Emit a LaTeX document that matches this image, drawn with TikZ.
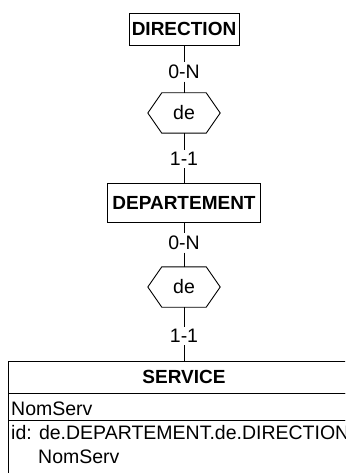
\documentclass[tikz,border=0pt]{standalone}
\usepackage{fontspec}
\setmainfont{Liberation Sans}
\begin{document}
\begin{tikzpicture}[x=1pt,y=-1pt,
  every node/.style={font=\fontsize{19.5}{23}\selectfont},
  ent/.style={draw, line width=0.9pt, inner sep=0pt, font=\fontsize{19}{23}\selectfont\bfseries},
  card/.style={inner sep=2.5pt},
  rel/.style={inner sep=0pt, minimum width=72pt, minimum height=40pt},
  link/.style={line width=0.9pt},
  box/.style={line width=0.9pt}]
\useasboundingbox (0,0) rectangle (345,473);
\clip (0,0) rectangle (345,473);

% entities
\node[ent, minimum width=110pt, minimum height=32pt] (dir) at (184,29) {DIRECTION};
\node[ent, minimum width=153pt, minimum height=39pt] (dep) at (184,202.5) {DEPARTEMENT};
\node[ent, minimum width=352pt, minimum height=32pt] (serv) at (184,377) {SERVICE};
\draw[box] (8,393) rectangle (360,420);
\draw[box] (8,420) rectangle (360,495);
\node[anchor=base west, inner sep=0pt] (attr) at (11,415) {NomServ};
\node[anchor=base west, inner sep=0pt] (id1) at (11,439) {id: de.DEPARTEMENT.de.DIRECTION};
\node[anchor=base west, inner sep=0pt] (id2) at (38,463) {NomServ};

% relationships
\node[rel] (r1) at (184,113) {de};
\node[rel] (r2) at (184,287) {de};
\foreach \r in {r1,r2}{
  \draw[box] (\r.west) -- ([xshift=14pt]\r.north west) -- ([xshift=-14pt]\r.north east)
    -- (\r.east) -- ([xshift=-14pt]\r.south east) -- ([xshift=14pt]\r.south west) -- cycle;
}

% cardinalities
\node[card] (c1) at (184,72) {0-N};
\node[card] (c2) at (184,159) {1-1};
\node[card] (c3) at (184,243) {0-N};
\node[card] (c4) at (184,336) {1-1};

% connectors
\draw[link] (dir.south) -- (c1.north);
\draw[link] (c1.south) -- (r1.north);
\draw[link] (r1.south) -- (c2.north);
\draw[link] (c2.south) -- (dep.north);
\draw[link] (dep.south) -- (c3.north);
\draw[link] (c3.south) -- (r2.north);
\draw[link] (r2.south) -- (c4.north);
\draw[link] (c4.south) -- (serv.north);
\end{tikzpicture}
\end{document}
